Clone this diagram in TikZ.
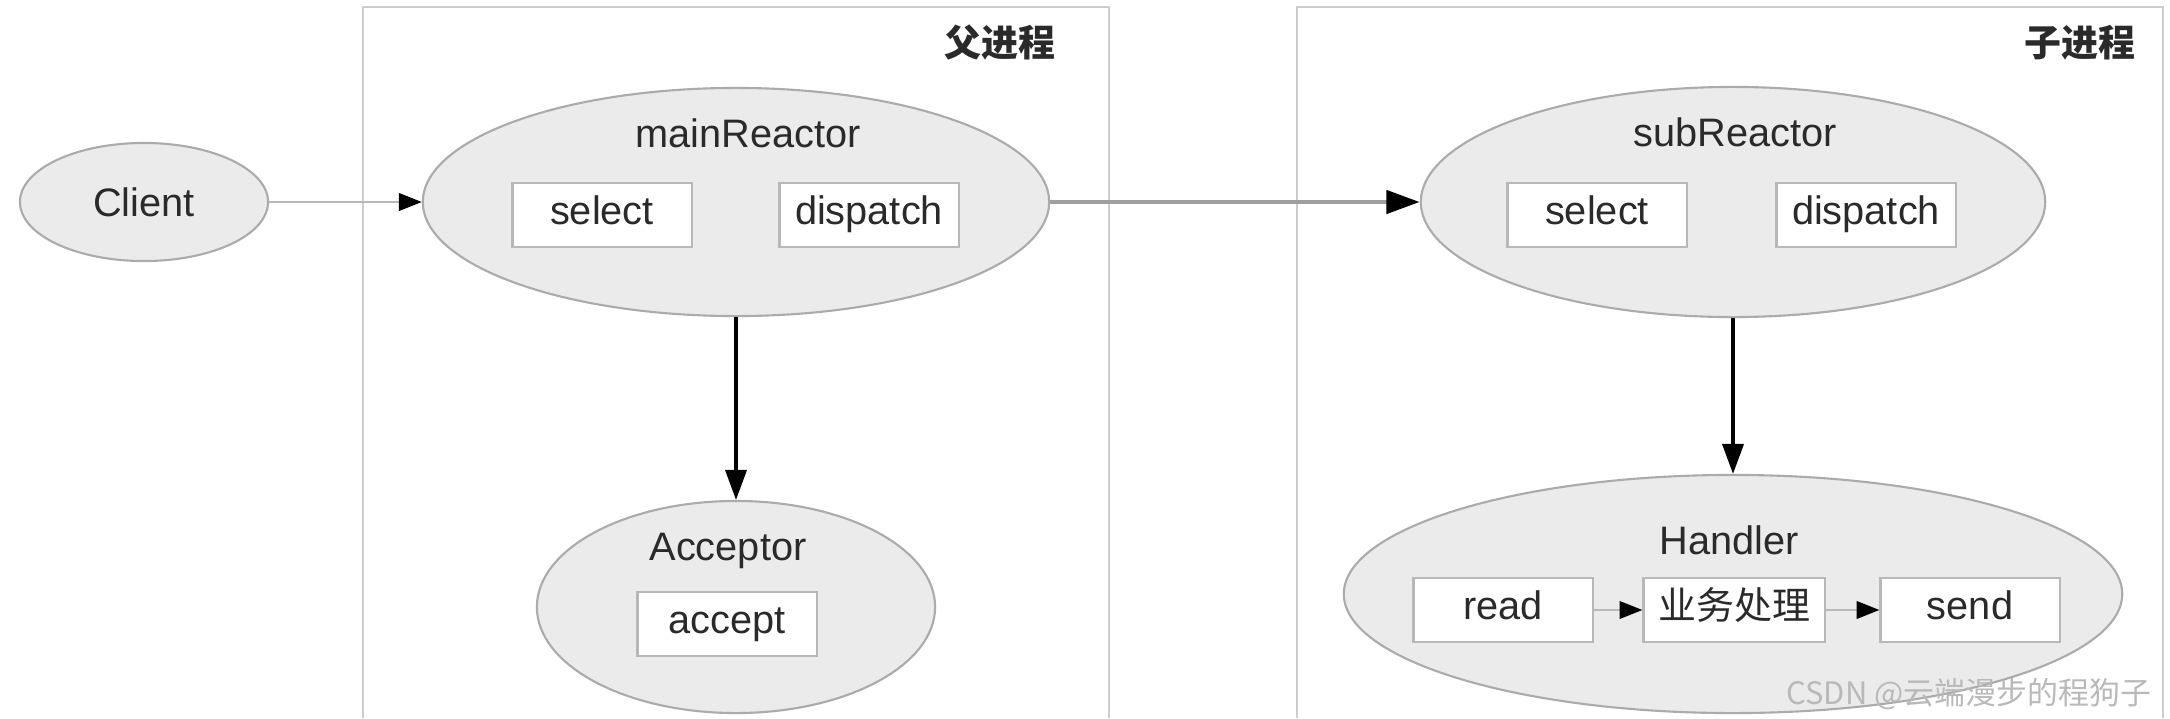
\documentclass[tikz,border=0pt]{standalone}
\usepackage{fontspec}
\setmainfont{Liberation Sans}
\newfontfamily\cjk{Noto Sans CJK SC}
\usepackage{tikz}
\usetikzlibrary{arrows.meta}
\usetikzlibrary{shapes.geometric}
\definecolor{ellfill}{HTML}{EBEBEB}
\definecolor{ellline}{HTML}{ABABAB}
\definecolor{boxline}{HTML}{B8B8B8}
\definecolor{framegray}{HTML}{CDCDCD}
\definecolor{txtgray}{HTML}{2A2A2A}
\colorlet{wmgray}{gray!55}

\begin{document}
\begin{tikzpicture}[x=0.01cm, y=-0.01cm, text=txtgray,
		font=\fontsize{11.3}{13}\selectfont,
		proc/.style={ellipse, draw=ellline, fill=ellfill, line width=0.6pt, inner sep=0pt},
		opbox/.style={rectangle, draw=boxline, fill=white, line width=0.6pt, inner sep=0pt,
			minimum width=1.79cm, minimum height=0.64cm, text height=0.72em, text depth=0.2em},
		tag/.style={inner sep=0pt},
		frame/.style={draw=framegray, line width=0.8pt},
		thinarrow/.style={draw=gray!55, line width=0.6pt,
			-{Triangle[length=6.5pt, width=5pt, color=black]}},
		wideflow/.style={draw=gray!75, line width=1.4pt,
			-{Triangle[length=9.5pt, width=6.5pt, color=black]}},
		downflow/.style={draw=black, line width=0.9pt,
			-{Triangle[length=8.5pt, width=6pt, color=black]}}]
	\useasboundingbox (0,0) rectangle (2170,718);
	% process frames, open at the bottom
	\draw[frame] (363,718) -- (363,7) -- (1109,7) -- (1109,718);
	\draw[frame] (1297,718) -- (1297,7) -- (2163,7) -- (2163,718);
	\node[tag, font=\cjk\fontsize{10.5}{12}\selectfont\bfseries] (parentlbl) at (1000,43) {父进程};
	\node[tag, font=\cjk\fontsize{10.5}{12}\selectfont\bfseries] (childlbl) at (2080,43) {子进程};
	% client
	\node[proc, minimum width=2.48cm, minimum height=1.18cm] (client) at (144,202) {Client};
	% parent side
	\node[proc, minimum width=6.26cm, minimum height=2.28cm] (mainR) at (736,202) {};
	\node[tag] (mainRlbl) at (748,133) {mainReactor};
	\node[opbox] (mselect) at (602,215) {select};
	\node[opbox] (mdispatch) at (869,215) {dispatch};
	\node[proc, minimum width=3.98cm, minimum height=2.12cm] (acceptor) at (736,607) {};
	\node[tag] (acceptorlbl) at (728,551) {Acceptor};
	\node[opbox] (accept) at (727,624) {accept};
	% child side
	\node[proc, minimum width=6.24cm, minimum height=2.30cm] (subR) at (1733,202) {};
	\node[tag] (subRlbl) at (1735,132) {subReactor};
	\node[opbox] (sselect) at (1597,215) {select};
	\node[opbox] (sdispatch) at (1866,215) {dispatch};
	\node[proc, minimum width=7.78cm, minimum height=2.38cm] (handler) at (1733,594) {};
	\node[tag] (handlerlbl) at (1729,540) {Handler};
	\node[opbox] (read) at (1503,610) {read};
	\node[opbox, minimum width=1.81cm, font=\cjk\fontsize{10.8}{12}\selectfont] (biz) at (1734,610) {业务处理};
	\node[opbox] (send) at (1970,610) {send};
	% connectors
	\draw[thinarrow] (client) -- (mainR);
	\draw[wideflow] (mainR.east) -- (subR.west);
	\draw[downflow] (mainR.south) -- (acceptor.north);
	\draw[downflow] (subR.south) -- (handler.north);
	\draw[thinarrow] (read) -- (biz);
	\draw[thinarrow] (biz) -- (send);
	% watermark
	\node[tag, anchor=east, text=wmgray, font=\cjk\fontsize{8.8}{10}\selectfont] (mark) at (2152,694) {CSDN @云端漫步的程狗子};
\end{tikzpicture}
\end{document}
